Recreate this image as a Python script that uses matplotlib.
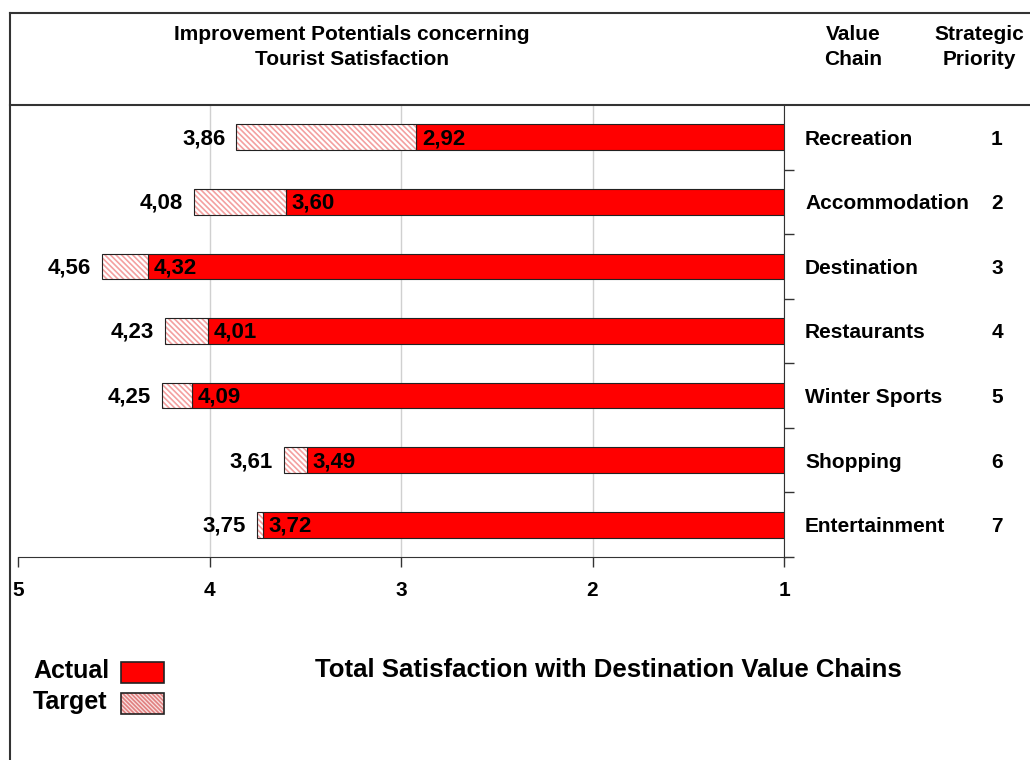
import matplotlib.pyplot as plt
from matplotlib.lines import Line2D
from matplotlib.patches import Rectangle
from matplotlib.transforms import blended_transform_factory

plt.rcParams['font.family'] = ['Liberation Sans', 'DejaVu Sans']
plt.rcParams['hatch.linewidth'] = 1.2

categories = ['Recreation', 'Accommodation', 'Destination', 'Restaurants',
              'Winter Sports', 'Shopping', 'Entertainment']
actual = [2.92, 3.60, 4.32, 4.01, 4.09, 3.49, 3.72]
target = [3.86, 4.08, 4.56, 4.23, 4.25, 3.61, 3.75]
priority = [1, 2, 3, 4, 5, 6, 7]
x_ticks = [5, 4, 3, 2, 1]

red = '#ff0000'
hatch_red = '#f4a0a0'


def fmt(v):
    return f'{v:.2f}'.replace('.', ',')


fig = plt.figure(figsize=(10.3, 7.6), dpi=100)
ax = fig.add_axes([18 / 1030, 1 - 557 / 760, 766 / 1030, 452 / 760])

ypos = [i + 0.5 for i in range(len(categories))]
for y, a, t in zip(ypos, actual, target):
    ax.barh(y, a - 1, left=1, height=0.4, color=red, edgecolor='#222222', linewidth=0.8, zorder=3)
    ax.barh(y, t - a, left=a, height=0.4, color='white', edgecolor=hatch_red,
            hatch='\\\\\\\\\\\\', linewidth=0, zorder=3)
    ax.barh(y, t - a, left=a, height=0.4, color='none', edgecolor='#222222', linewidth=0.8, zorder=4)
    ax.annotate(fmt(t), (t, y), xytext=(-8, -1), textcoords='offset points',
                ha='right', va='center', fontsize=16, fontweight='bold')
    ax.annotate(fmt(a), (a, y), xytext=(4, -1), textcoords='offset points',
                ha='left', va='center', fontsize=16, fontweight='bold', zorder=5)

ax.set_xlim(5, 1)
ax.set_ylim(7, 0)
ax.set_xticks(x_ticks)
ax.set_xticklabels([str(v) for v in x_ticks], fontsize=15, fontweight='bold')
ax.tick_params(axis='x', length=7, width=1, pad=10, direction='out', color='#333333')
ax.set_yticks(range(1, 8))
ax.set_yticklabels([])
ax.yaxis.tick_right()
ax.tick_params(axis='y', length=7, width=1, direction='out', color='#333333')
ax.grid(axis='x', color='#d0d0d0', linewidth=1, zorder=0)
ax.xaxis.get_gridlines()[0].set_visible(False)
ax.set_axisbelow(True)
ax.spines['top'].set_visible(False)
ax.spines['left'].set_visible(False)
ax.spines['right'].set_color('#333333')
ax.spines['bottom'].set_color('#333333')

# value chain names and priorities on the right
side = blended_transform_factory(fig.transFigure, ax.transData)
for y, name, p in zip(ypos, categories, priority):
    fig.text(805 / 1030, y + 0.03, name, transform=side, ha='left', va='center',
             fontsize=15, fontweight='bold')
    fig.text(997 / 1030, y + 0.03, str(p), transform=side, ha='center', va='center',
             fontsize=15, fontweight='bold')

fig_t = fig.transFigure
# frame lines
fig.add_artist(Line2D([10 / 1030, 1], [1 - 13 / 760, 1 - 13 / 760], color='#333333', lw=1.5, transform=fig_t))
fig.add_artist(Line2D([10 / 1030, 10 / 1030], [1 - 13 / 760, 0], color='#333333', lw=1.5, transform=fig_t))
fig.add_artist(Line2D([10 / 1030, 1], [1 - 105 / 760, 1 - 105 / 760], color='#333333', lw=1.5, transform=fig_t))

# header
fig.text(352 / 1030, 1 - 47 / 760, 'Improvement Potentials concerning\nTourist Satisfaction',
         ha='center', va='center', fontsize=15, fontweight='bold', linespacing=1.4)
fig.text(853 / 1030, 1 - 47 / 760, 'Value\nChain', ha='center', va='center', fontsize=15,
         fontweight='bold', linespacing=1.4)
fig.text(979 / 1030, 1 - 47 / 760, 'Strategic\nPriority', ha='center', va='center', fontsize=15,
         fontweight='bold', linespacing=1.4)

# legend
fig.text(33 / 1030, 1 - 671 / 760, 'Actual', ha='left', va='center', fontsize=18, fontweight='bold')
fig.text(33 / 1030, 1 - 702 / 760, 'Target', ha='left', va='center', fontsize=18, fontweight='bold')
fig.add_artist(Rectangle((121 / 1030, 1 - 683 / 760), 43 / 1030, 21 / 760, transform=fig_t,
                         facecolor=red, edgecolor='#222222', lw=1.2))
fig.add_artist(Rectangle((121 / 1030, 1 - 714 / 760), 43 / 1030, 21 / 760, transform=fig_t,
                         facecolor='#f8e0e0', edgecolor='#e08080', hatch='\\\\\\\\\\\\\\\\', lw=0))
fig.add_artist(Rectangle((121 / 1030, 1 - 714 / 760), 43 / 1030, 21 / 760, transform=fig_t,
                         facecolor='none', edgecolor='#222222', lw=1.2))
fig.text(608 / 1030, 1 - 670 / 760, 'Total Satisfaction with Destination Value Chains',
         ha='center', va='center', fontsize=18.5, fontweight='bold')

fig.savefig('out.png', dpi=100)
